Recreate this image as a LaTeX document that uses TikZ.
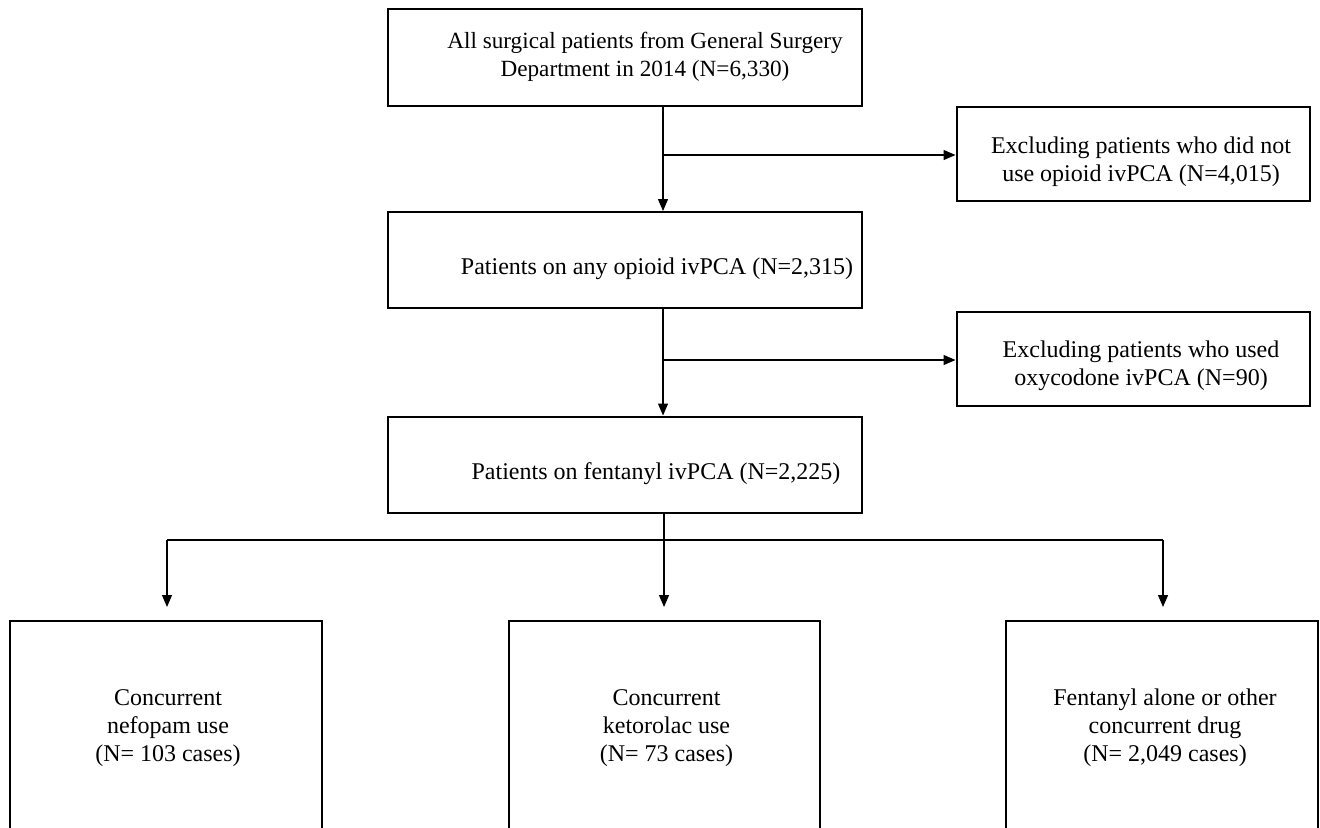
\documentclass[tikz,border=0pt]{standalone}
\usepackage{fontspec}
\setmainfont{Liberation Serif}
\usetikzlibrary{arrows.meta}
\begin{document}
\begin{tikzpicture}[x=0.5pt,y=-0.5pt,
  box/.style={draw,line width=1pt,inner sep=0pt},
  txt/.style={align=center,inner sep=0pt,font=\fontsize{12}{14}\selectfont},
  conn/.style={line width=0.6pt},
  arr/.style={conn,-{Triangle[length=6pt,width=5pt]}}]
\useasboundingbox (0,0) rectangle (1320,827);
\clip (0,0) rectangle (1320,827);
% boxes
\node[box,minimum width=237pt,minimum height=48.5pt] (all) at (625,57) {};
\node[box,minimum width=176.5pt,minimum height=47pt] (ex1) at (1133,154) {};
\node[box,minimum width=237pt,minimum height=48pt] (any) at (625,260) {};
\node[box,minimum width=176.5pt,minimum height=47pt] (ex2) at (1133,359) {};
\node[box,minimum width=237pt,minimum height=48pt] (fen) at (625,464.5) {};
\node[box,minimum width=156pt,minimum height=106pt] (nef) at (166,727) {};
\node[box,minimum width=155.5pt,minimum height=106pt] (ket) at (664.5,727) {};
\node[box,minimum width=156pt,minimum height=106pt] (alone) at (1162,727) {};
% texts
\node[txt,font=\fontsize{11.6}{14}\selectfont] (all-t) at ([shift={(20,0)}]all.center) {All surgical patients from General Surgery\\Department in 2014 (N=6,330)};
\node[txt] (ex1-t) at ([shift={(8,8)}]ex1.center) {Excluding patients who did not\\use opioid ivPCA (N=4,015)};
\node[txt] (any-t) at ([shift={(32,9)}]any.center) {Patients on any opioid ivPCA (N=2,315)};
\node[txt] (ex2-t) at ([shift={(8,7)}]ex2.center) {Excluding patients who used\\oxycodone ivPCA (N=90)};
\node[txt] (fen-t) at ([shift={(31,9)}]fen.center) {Patients on fentanyl ivPCA (N=2,225)};
\node[txt] (nef-t) at ([shift={(2,1)}]nef.center) {Concurrent\\nefopam use\\(N= 103 cases)};
\node[txt] (ket-t) at ([shift={(2,1)}]ket.center) {Concurrent\\ketorolac use\\(N= 73 cases)};
\node[txt] (alone-t) at ([shift={(3,1)}]alone.center) {Fentanyl alone or other\\concurrent drug\\(N= 2,049 cases)};
% connectors
\coordinate (b1) at (663,155);
\coordinate (b2) at (663,360);
\coordinate (split) at (664,540);
\coordinate (sl) at (167,540);
\coordinate (sr) at (1163,540);
\draw[arr] (all.south -| b1) -- (any.north -| b1);
\draw[arr] (b1) -- (b1 -| ex1.west);
\draw[arr] (any.south -| b2) -- (fen.north -| b2);
\draw[arr] (b2) -- (b2 -| ex2.west);
\draw[conn] (fen.south -| split) -- (split);
\draw[conn] (sl) -- (sr);
\draw[arr] (sl) -- (167,607);
\draw[arr] (split) -- (664,607);
\draw[arr] (sr) -- (1163,607);
\end{tikzpicture}
\end{document}
